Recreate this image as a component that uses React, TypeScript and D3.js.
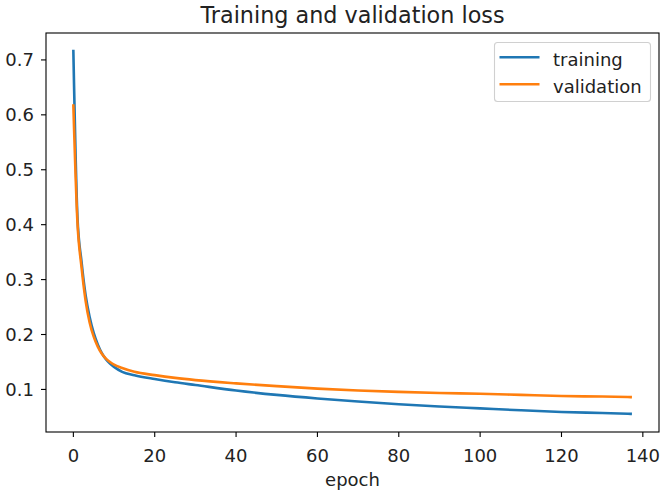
import * as d3 from "d3";

const epochs = [0, 1, 2, 3, 4, 5, 6, 7, 8, 9, 10, 12, 15, 20, 25, 30, 40, 50, 60, 70, 80, 90, 100, 110, 120, 130, 137];
const trainingLoss = [0.716, 0.415, 0.333, 0.272, 0.232, 0.203, 0.182, 0.166, 0.155, 0.147, 0.141, 0.132, 0.126, 0.119, 0.113, 0.108, 0.098, 0.09, 0.0835, 0.078, 0.073, 0.069, 0.0655, 0.062, 0.059, 0.057, 0.0555];
const validationLoss = [0.617, 0.405, 0.323, 0.262, 0.222, 0.196, 0.178, 0.165, 0.156, 0.15, 0.145, 0.139, 0.132, 0.126, 0.121, 0.117, 0.111, 0.106, 0.1015, 0.098, 0.0955, 0.0935, 0.092, 0.09, 0.088, 0.087, 0.086];
const xTicks = [0, 20, 40, 60, 80, 100, 120, 140];
const yTicks = [0.1, 0.2, 0.3, 0.4, 0.5, 0.6, 0.7];
const seriesNames = ["training", "validation"];
const seriesColors = ["#1f77b4", "#ff7f0e"];

const W = 665;
const H = 495;
const left = 46;
const right = 659;
const top = 33;
const bottom = 432;
const font = "'DejaVu Sans', sans-serif";
const tickSize = 18;

export default function App() {
  const all = trainingLoss.concat(validationLoss);
  const xMin = d3.min(epochs)!, xMax = d3.max(epochs)!;
  const yMin = d3.min(all)!, yMax = d3.max(all)!;
  const xPad = (xMax - xMin) * 0.05;
  const yPad = (yMax - yMin) * 0.05;

  const x = d3.scaleLinear().domain([xMin - xPad, xMax + xPad]).range([left - 0.5, right - 0.5]);
  const y = d3.scaleLinear().domain([yMin - yPad, yMax + yPad]).range([bottom, top]);

  const line = d3
    .line<number>()
    .x((_, i) => x(epochs[i]))
    .y((d) => y(d))
    .curve(d3.curveMonotoneX);

  const series = [trainingLoss, validationLoss];

  return (
    <div style={{ position: "absolute", left: 0, top: 0 }}>
      <svg width={W} height={H} style={{ display: "block", background: "#fff" }}>
        <rect x={0} y={0} width={W} height={H} fill="#fff" />

        {series.map((s, i) => (
          <path key={i} d={line(s)!} fill="none" stroke={seriesColors[i]} strokeWidth={2.6} strokeLinecap="square" />
        ))}

        {/* spines */}
        <rect x={left} y={top} width={right - left} height={bottom - top} fill="none" stroke="#000" strokeWidth={1.1} />

        {/* x axis */}
        {xTicks.map((t) => (
          <g key={t}>
            <line x1={x(t)} x2={x(t)} y1={bottom} y2={bottom + 5} stroke="#000" strokeWidth={1.1} />
            <text x={x(t)} y={461.5} textAnchor="middle" fontFamily={font} fontSize={tickSize} fill="#222">
              {t}
            </text>
          </g>
        ))}
        <text x={(left + right) / 2} y={486} textAnchor="middle" fontFamily={font} fontSize={tickSize} fill="#222">
          epoch
        </text>

        {/* y axis */}
        {yTicks.map((t) => (
          <g key={t}>
            <line x1={left - 5} x2={left} y1={y(t)} y2={y(t)} stroke="#000" strokeWidth={1.1} />
            <text x={34} y={y(t) + 0.364 * tickSize} textAnchor="end" fontFamily={font} fontSize={tickSize} fill="#222">
              {d3.format(".1f")(t)}
            </text>
          </g>
        ))}

        {/* title */}
        <text x={(left + right) / 2} y={23.3} textAnchor="middle" fontFamily={font} fontSize={22.3} fill="#222">
          Training and validation loss
        </text>

        {/* legend */}
        <g>
          <rect x={494.5} y={42.5} width={156} height={59} rx={3} fill="#fff" fillOpacity={0.8} stroke="#d0d0d0" strokeWidth={1.1} />
          {seriesNames.map((name, i) => {
            const ly = 57.3 + i * 27;
            return (
              <g key={name}>
                <line x1={499.5} x2={539.5} y1={ly} y2={ly} stroke={seriesColors[i]} strokeWidth={2.6} />
                <text x={553} y={ly + 8.3} fontFamily={font} fontSize={tickSize} fill="#222">
                  {name}
                </text>
              </g>
            );
          })}
        </g>
      </svg>
    </div>
  );
}
